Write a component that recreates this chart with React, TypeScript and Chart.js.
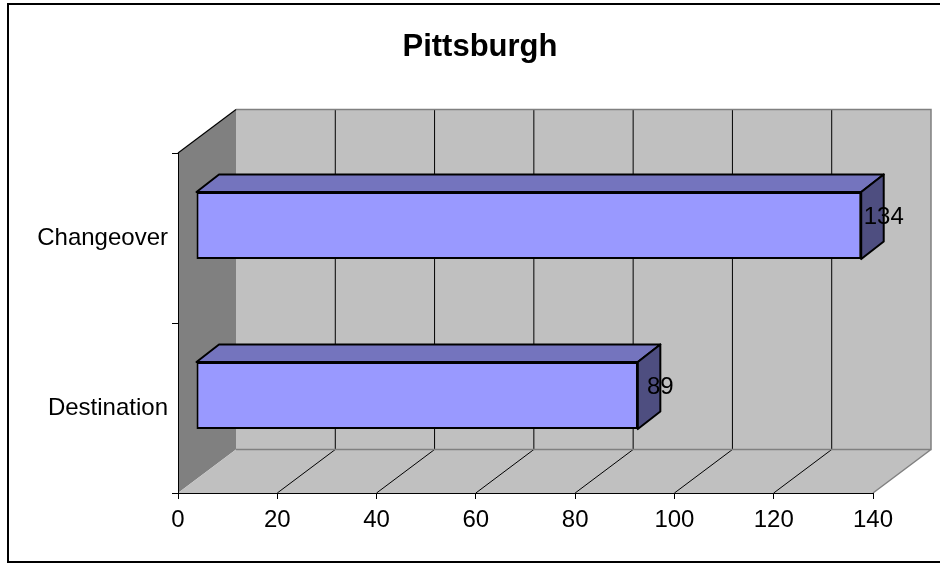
import React, { useEffect, useRef } from "react";
import { Chart, registerables } from "chart.js";

Chart.register(...registerables);

// ---- data ----
const chartTitle = "Pittsburgh";
const categories = ["Changeover", "Destination"];
const values = [134, 89];
const xTicks = [0, 20, 40, 60, 80, 100, 120, 140];

// ---- styling ----
const FONT = "'Liberation Sans', Arial, Helvetica, sans-serif";
const WALL_DX = 58;
const WALL_DY = -43.5;
const BAR_DX = 18;
const BAR_DY = -12.5;
const DEPTH_DX = 22.5;
const DEPTH_DY = -17.5;
const FRONT = "#9999ff";
const TOP = "#7474be";
const SIDE = "#4e4e80";

const excel3d = {
  id: "excel3d",
  beforeDraw(chart: any) {
    const ctx = chart.ctx as CanvasRenderingContext2D;
    const xs = chart.scales.x;
    const area = chart.chartArea;
    ctx.save();
    ctx.fillStyle = "#ffffff";
    ctx.fillRect(0, 0, chart.width, chart.height);
    ctx.strokeStyle = "#000";
    ctx.lineWidth = 2;
    ctx.strokeRect(8, 4, 940, 558);

    ctx.fillStyle = "#000";
    ctx.font = `bold 31px ${FONT}`;
    ctx.textAlign = "center";
    ctx.textBaseline = "alphabetic";
    ctx.fillText(chartTitle, 480, 56);

    const L = xs.getPixelForValue(xTicks[0]);
    const R = xs.getPixelForValue(xTicks[xTicks.length - 1]);
    const T = area.top;
    const B = area.bottom;

    // side wall
    ctx.beginPath();
    ctx.moveTo(L, T);
    ctx.lineTo(L + WALL_DX, T + WALL_DY);
    ctx.lineTo(L + WALL_DX, B + WALL_DY);
    ctx.lineTo(L, B);
    ctx.closePath();
    ctx.fillStyle = "#808080";
    ctx.fill();
    // back wall
    ctx.fillStyle = "#c0c0c0";
    ctx.fillRect(L + WALL_DX, T + WALL_DY, R - L, B - T);
    // floor
    ctx.beginPath();
    ctx.moveTo(L, B);
    ctx.lineTo(R, B);
    ctx.lineTo(R + WALL_DX, B + WALL_DY);
    ctx.lineTo(L + WALL_DX, B + WALL_DY);
    ctx.closePath();
    ctx.fill();

    // gridlines
    ctx.lineWidth = 1;
    ctx.strokeStyle = "#000";
    for (let i = 1; i < xTicks.length - 1; i++) {
      const px = xs.getPixelForValue(xTicks[i]);
      ctx.beginPath();
      ctx.moveTo(px + WALL_DX, T + WALL_DY);
      ctx.lineTo(px + WALL_DX, B + WALL_DY);
      ctx.stroke();
      ctx.beginPath();
      ctx.moveTo(px, B);
      ctx.lineTo(px + WALL_DX, B + WALL_DY);
      ctx.stroke();
    }
    // gray edges
    ctx.strokeStyle = "#808080";
    ctx.lineWidth = 1.5;
    ctx.beginPath();
    ctx.moveTo(L + WALL_DX, T + WALL_DY);
    ctx.lineTo(R + WALL_DX, T + WALL_DY);
    ctx.lineTo(R + WALL_DX, B + WALL_DY);
    ctx.lineTo(L + WALL_DX, B + WALL_DY);
    ctx.moveTo(R + WALL_DX, B + WALL_DY);
    ctx.lineTo(R, B);
    ctx.stroke();
    // side wall top edge
    ctx.strokeStyle = "#000";
    ctx.lineWidth = 1.2;
    ctx.beginPath();
    ctx.moveTo(L, T);
    ctx.lineTo(L + WALL_DX, T + WALL_DY);
    ctx.stroke();
    ctx.restore();
  },
  beforeDatasetsDraw(chart: any) {
    const ctx = chart.ctx as CanvasRenderingContext2D;
    ctx.save();
    ctx.translate(BAR_DX, BAR_DY);
  },
  afterDatasetsDraw(chart: any) {
    const ctx = chart.ctx as CanvasRenderingContext2D;
    ctx.restore();
    const meta = chart.getDatasetMeta(0);
    ctx.save();
    ctx.lineWidth = 2;
    ctx.lineJoin = "round";
    ctx.strokeStyle = "#000";
    meta.data.forEach((el: any, i: number) => {
      const p = el.getProps(["x", "y", "base", "height"], true);
      const xr = p.x + BAR_DX;
      const xl = p.base + BAR_DX;
      const top = p.y - p.height / 2 + BAR_DY;
      const bottom = p.y + p.height / 2 + BAR_DY;
      // top face
      ctx.beginPath();
      ctx.moveTo(xl, top);
      ctx.lineTo(xl + DEPTH_DX, top + DEPTH_DY);
      ctx.lineTo(xr + DEPTH_DX, top + DEPTH_DY);
      ctx.lineTo(xr, top);
      ctx.closePath();
      ctx.fillStyle = TOP;
      ctx.fill();
      ctx.stroke();
      // side face
      ctx.beginPath();
      ctx.moveTo(xr, top);
      ctx.lineTo(xr + DEPTH_DX, top + DEPTH_DY);
      ctx.lineTo(xr + DEPTH_DX, bottom + DEPTH_DY);
      ctx.lineTo(xr, bottom);
      ctx.closePath();
      ctx.fillStyle = SIDE;
      ctx.fill();
      ctx.stroke();
      // value label
      ctx.fillStyle = "#000";
      ctx.font = `24px ${FONT}`;
      ctx.textAlign = "center";
      ctx.textBaseline = "alphabetic";
      ctx.fillText(String(values[i]), xr + DEPTH_DX, p.y + BAR_DY - 2);
    });
    ctx.restore();
  },
};

export default function App() {
  const ref = useRef<HTMLCanvasElement | null>(null);
  useEffect(() => {
    if (!ref.current) return;
    const chart = new Chart(ref.current, {
      type: "bar",
      data: {
        labels: categories,
        datasets: [
          {
            data: values,
            backgroundColor: FRONT,
            borderColor: "#000",
            borderWidth: 2,
            borderSkipped: false,
            barPercentage: 0.395,
            categoryPercentage: 1,
            clip: false,
          } as any,
        ],
      },
      options: {
        indexAxis: "y",
        responsive: false,
        animation: false,
        devicePixelRatio: 1,
        layout: { padding: { top: 153, right: 67, bottom: 0, left: 0 } },
        plugins: {
          legend: { display: false },
          title: { display: false },
          tooltip: { enabled: false },
        },
        scales: {
          x: {
            type: "linear",
            min: xTicks[0],
            max: xTicks[xTicks.length - 1],
            ticks: {
              stepSize: xTicks[1] - xTicks[0],
              color: "#000",
              font: { family: FONT, size: 24 },
              padding: 7,
            },
            grid: { drawOnChartArea: false, drawTicks: true, tickLength: 6, color: "#000" },
            border: { color: "#000", width: 1 },
            afterFit(s: any) {
              s.height = 70;
            },
          },
          y: {
            type: "category",
            ticks: { color: "#000", font: { family: FONT, size: 24 }, padding: 4 },
            grid: { drawOnChartArea: false, drawTicks: true, tickLength: 6, color: "#000", offset: true },
            border: { color: "#000", width: 1 },
            afterFit(s: any) {
              s.width = 178;
            },
          },
        },
      } as any,
      plugins: [excel3d],
    });
    return () => chart.destroy();
  }, []);
  return (
    <div style={{ position: "absolute", left: 0, top: 0, width: 940, height: 563 }}>
      <canvas ref={ref} width={940} height={563} style={{ display: "block" }} />
    </div>
  );
}
